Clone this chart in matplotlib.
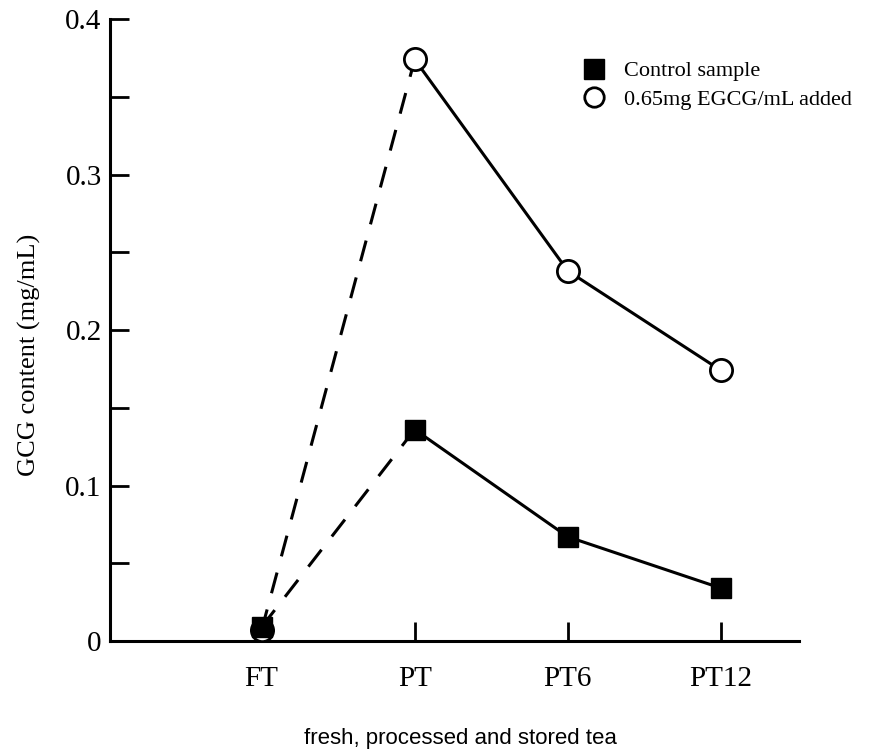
import matplotlib
matplotlib.use("Agg")
import matplotlib.pyplot as plt
from matplotlib.lines import Line2D
import numpy as np

# GCG content in fresh (FT), processed (PT) and stored tea (PT6, PT12)
samples = ["FT", "PT", "PT6", "PT12"]
control = [0.009, 0.136, 0.067, 0.034]
egcg_added = [0.007, 0.374, 0.238, 0.174]

serif = "Liberation Serif"
x = np.arange(len(samples))

fig = plt.figure(figsize=(8.9, 7.52), dpi=100)
ax = fig.add_axes([0.1236, 0.1476, 0.7742, 0.8271])

dash = (0, (7, 5.5))
lw = 2.2
# FT -> PT drawn dashed, the storage period solid
ax.plot(x[:2], egcg_added[:2], color="black", lw=lw, linestyle=dash, zorder=2)
ax.plot(x[:2], control[:2], color="black", lw=lw, linestyle=dash, zorder=2)
ax.plot(x[1:], egcg_added[1:], color="black", lw=lw, zorder=2)
ax.plot(x[1:], control[1:], color="black", lw=lw, zorder=2)

ax.plot(x, egcg_added, linestyle="none", marker="o", markersize=16,
        markerfacecolor="white", markeredgecolor="black", markeredgewidth=2, zorder=3)
ax.plot(x, control, linestyle="none", marker="s", markersize=15,
        color="black", zorder=4)

ax.set_xlim(-0.99, 3.51)
ax.set_ylim(0, 0.4)
ax.set_xticks(x)
ax.set_xticklabels(samples, fontfamily=serif, fontsize=21)
ax.set_yticks([0, 0.1, 0.2, 0.3, 0.4])
ax.set_yticklabels(["0", "0.1", "0.2", "0.3", "0.4"], fontfamily=serif, fontsize=21)
ax.set_yticks([0.05, 0.15, 0.25, 0.35], minor=True)

ax.tick_params(axis="both", which="both", direction="in", length=14, width=2)
ax.tick_params(axis="x", pad=18)
ax.tick_params(axis="y", pad=6)

for side in ["top", "right"]:
    ax.spines[side].set_visible(False)
for side in ["left", "bottom"]:
    ax.spines[side].set_linewidth(2.2)

ax.set_ylabel("GCG content (mg/mL)", fontfamily=serif, fontsize=19)
ax.yaxis.set_label_coords(-0.10, 0.46)
ax.set_xlabel("fresh, processed and stored tea", fontfamily="Liberation Sans",
              fontsize=16)
ax.xaxis.set_label_coords(0.508, -0.14)

handles = [
    Line2D([], [], linestyle="none", marker="s", markersize=14, color="black"),
    Line2D([], [], linestyle="none", marker="o", markersize=14,
           markerfacecolor="white", markeredgecolor="black", markeredgewidth=2),
]
ax.legend(handles, ["Control sample", "0.65mg EGCG/mL added"], loc="upper left",
          bbox_to_anchor=(0.654, 0.965), frameon=False, handlelength=1.2,
          handletextpad=0.75, labelspacing=0.35,
          prop={"family": serif, "size": 16})

fig.savefig("out.png", dpi=100)
